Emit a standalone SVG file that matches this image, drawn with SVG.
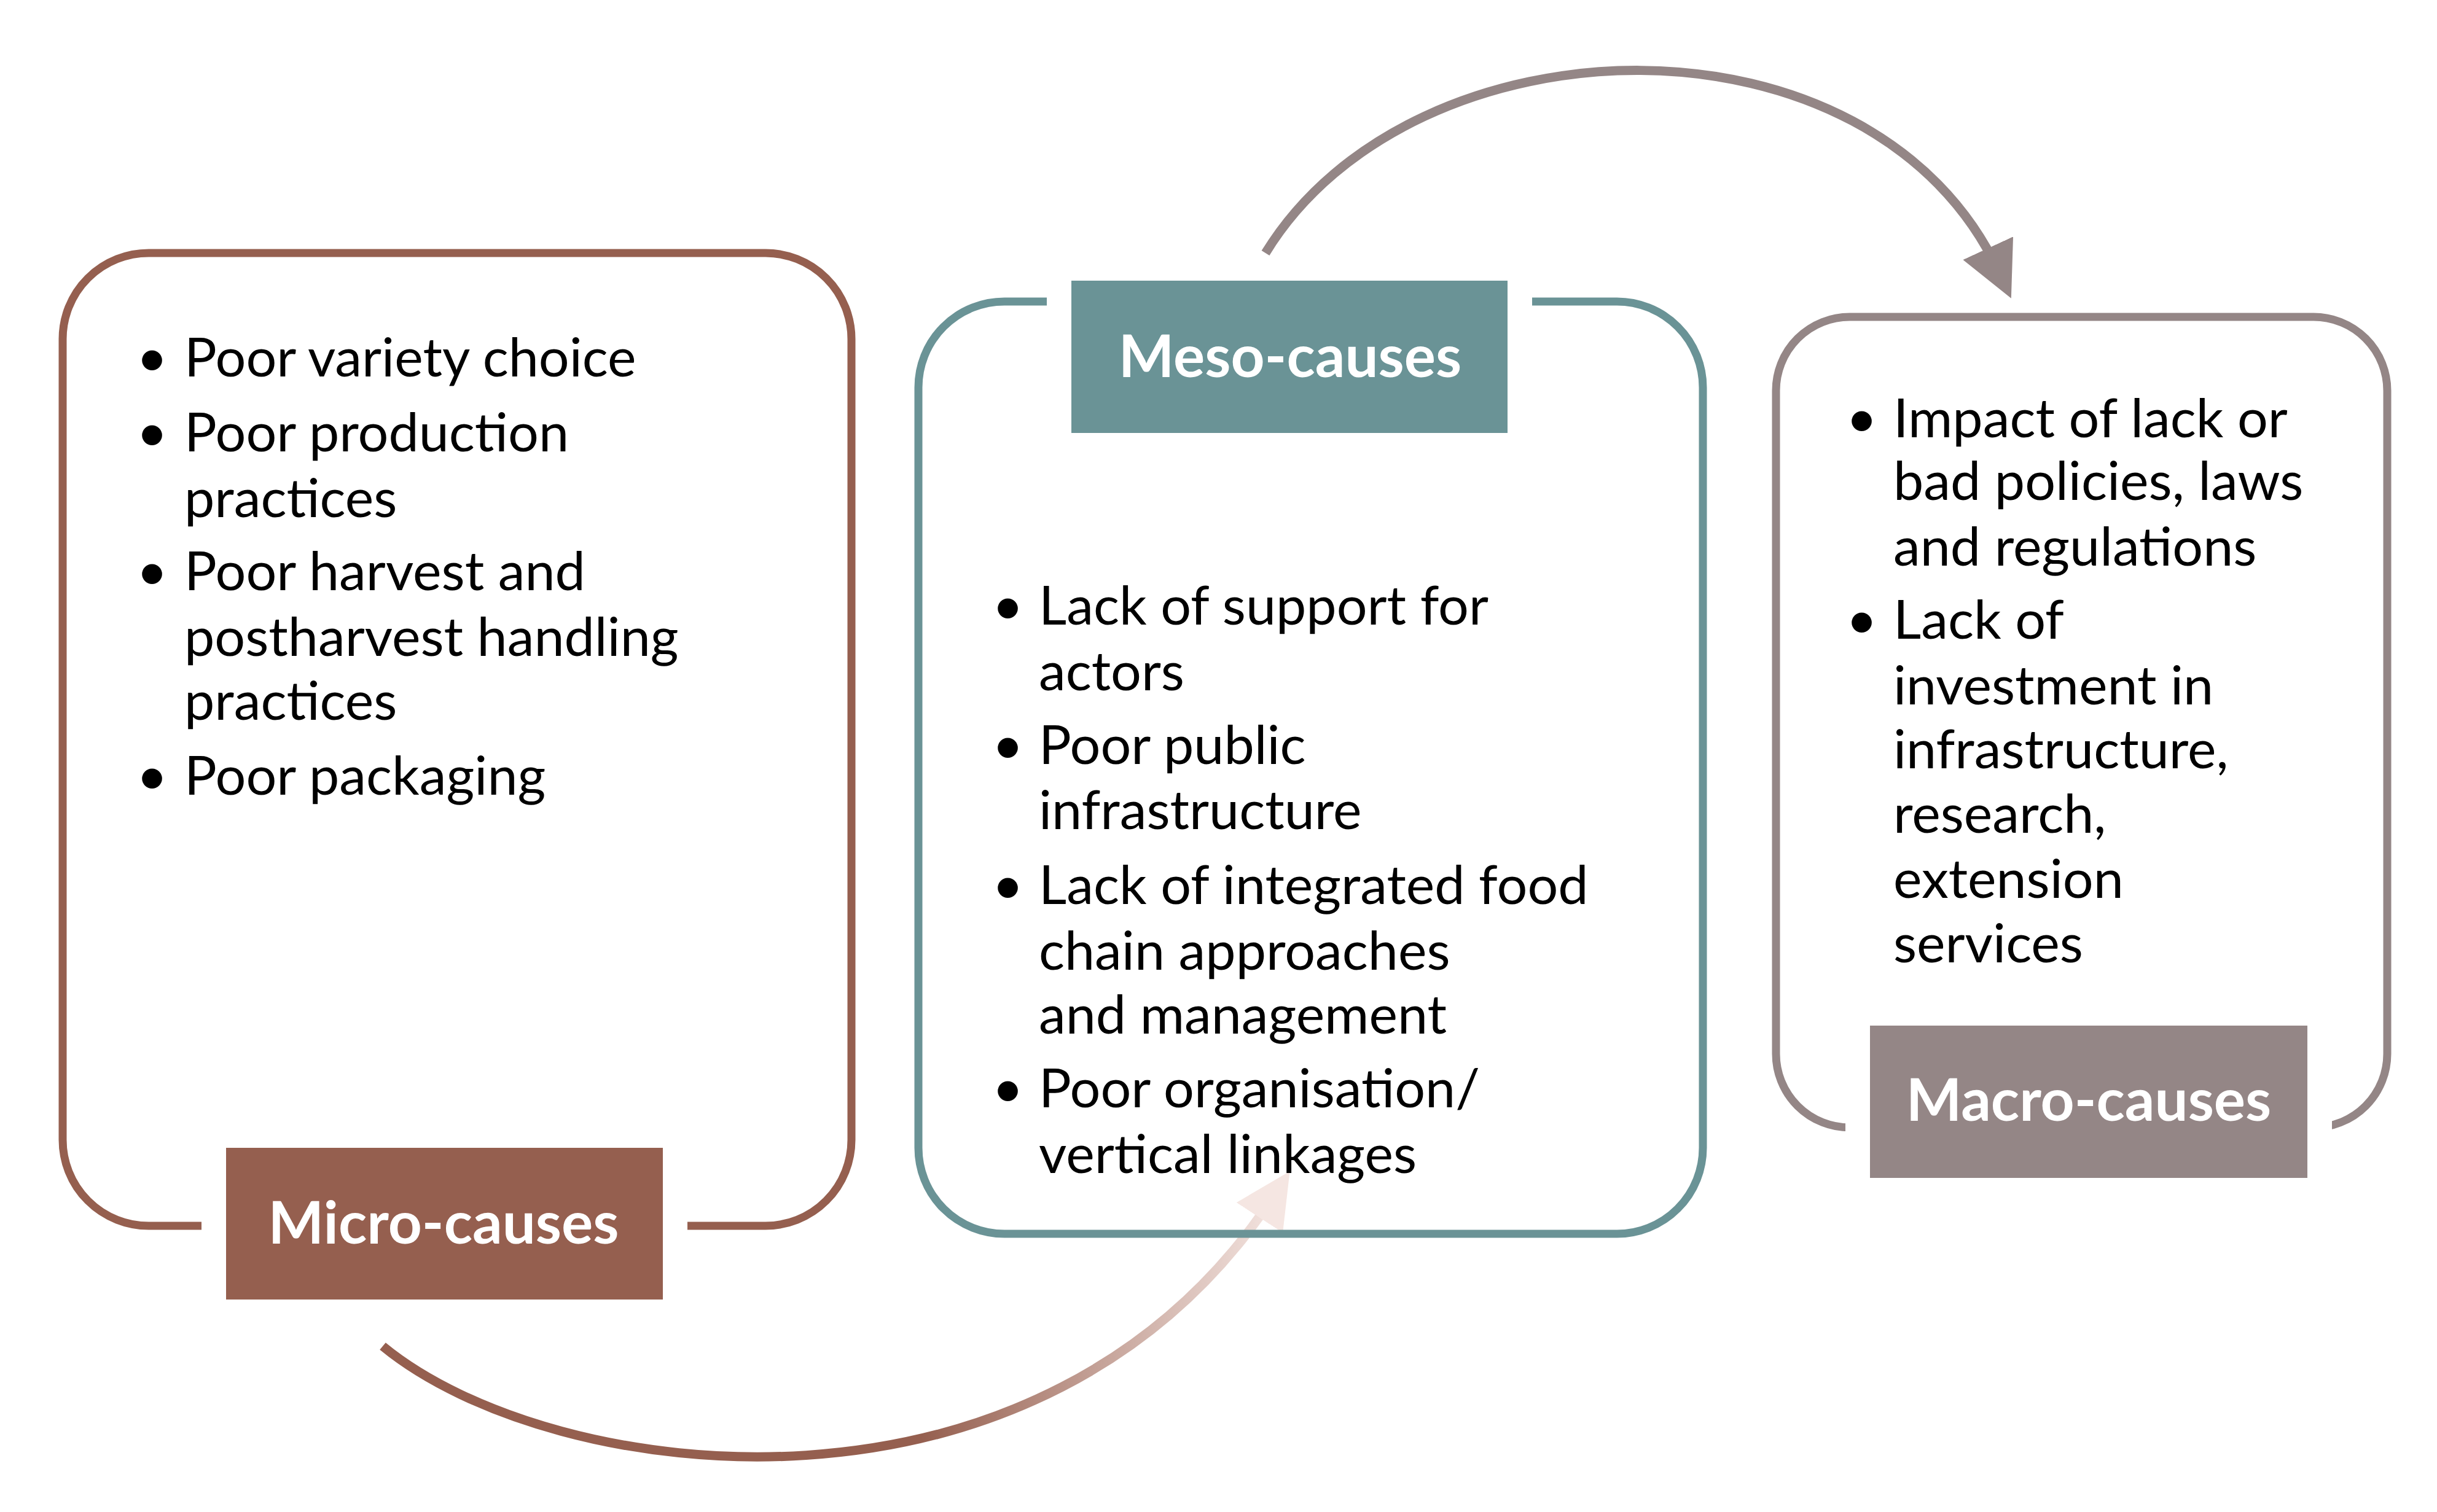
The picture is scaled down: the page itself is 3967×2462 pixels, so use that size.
<svg xmlns="http://www.w3.org/2000/svg" width="3967" height="2462" viewBox="0 0 3967 2462">
<style>
.t{font-family:Lato,"Liberation Sans",sans-serif;font-size:88px;fill:#000}
.l{font-family:Lato,"Liberation Sans",sans-serif;font-size:96px;font-weight:bold;fill:#fff;text-anchor:middle}
.box{fill:none;stroke-width:13}
.lab{stroke:#fff;stroke-width:40}
</style>
<defs>
<linearGradient id="g" gradientUnits="userSpaceOnUse" x1="623" y1="0" x2="2085" y2="0">
<stop offset="0.6" stop-color="#955f4f"/><stop offset="1" stop-color="#f5e6e2"/></linearGradient>
<marker id="ap" markerWidth="6" markerHeight="6" refX="3" refY="3" orient="auto" markerUnits="strokeWidth"><path d="M0,0 L6,3 L0,6 Z" fill="#f5e6e2"/></marker>
<marker id="ag" markerWidth="6" markerHeight="6" refX="3" refY="3" orient="auto" markerUnits="strokeWidth"><path d="M0,0 L6,3 L0,6 Z" fill="#948686"/></marker>
</defs>
<rect width="3967" height="2462" fill="#fff"/>
<g id="connectors" fill="none" stroke-width="15">
<path d="M623,2192 C900,2420 1700,2520 2075,1945" stroke="url(#g)" marker-end="url(#ap)"/>
<path d="M2060,412 C2300,20 3050,0 3255,445" stroke="#948686" marker-end="url(#ag)"/>
</g>
<g id="micro">
<rect class="box" x="102" y="412" width="1284" height="1584" rx="140" stroke="#955f4f"/>
<rect class="lab" x="348" y="1849" width="751" height="287" rx="12" fill="#955f4f"/>
<text class="l" x="722" y="2025">Micro-causes</text>
<text class="t"><tspan x="222" y="613">•</tspan><tspan x="300" y="613">Poor variety choice</tspan><tspan x="222" y="735">•</tspan><tspan x="300" y="735">Poor production</tspan><tspan x="300" y="842">practices</tspan><tspan x="222" y="961">•</tspan><tspan x="300" y="961">Poor harvest and</tspan><tspan x="300" y="1068">postharvest handling</tspan><tspan x="300" y="1172">practices</tspan><tspan x="222" y="1294">•</tspan><tspan x="300" y="1294">Poor packaging</tspan></text>
</g>
<g id="meso">
<rect class="box" x="1495" y="491" width="1277" height="1518" rx="140" stroke="#6a9396"/>
<rect class="lab" x="1724" y="437" width="750" height="288" rx="12" fill="#6a9396"/>
<text class="l" x="2100" y="614">Meso-causes</text>
<text class="t"><tspan x="1615" y="1017">•</tspan><tspan x="1691" y="1017">Lack of support for</tspan><tspan x="1691" y="1124">actors</tspan><tspan x="1615" y="1244">•</tspan><tspan x="1691" y="1244">Poor public</tspan><tspan x="1691" y="1350">infrastructure</tspan><tspan x="1615" y="1472">•</tspan><tspan x="1691" y="1472">Lack of integrated food</tspan><tspan x="1691" y="1579">chain approaches</tspan><tspan x="1691" y="1683">and management</tspan><tspan x="1615" y="1803">•</tspan><tspan x="1691" y="1803">Poor organisation/</tspan><tspan x="1691" y="1910">vertical linkages</tspan></text>
</g>
<g id="macro">
<rect class="box" x="2891" y="516" width="995" height="1320" rx="120" stroke="#948686"/>
<rect class="lab" x="3024" y="1650" width="752" height="288" rx="12" fill="#948686"/>
<text class="l" x="3400" y="1825">Macro-causes</text>
<text class="t"><tspan x="3005" y="712">•</tspan><tspan x="3082" y="712">Impact of lack or</tspan><tspan x="3082" y="814">bad policies, laws</tspan><tspan x="3082" y="921">and regulations</tspan><tspan x="3005" y="1040">•</tspan><tspan x="3082" y="1040">Lack of</tspan><tspan x="3082" y="1147">investment in</tspan><tspan x="3082" y="1251">infrastructure,</tspan><tspan x="3082" y="1356">research,</tspan><tspan x="3082" y="1462">extension</tspan><tspan x="3082" y="1567">services</tspan></text>
</g>
</svg>
